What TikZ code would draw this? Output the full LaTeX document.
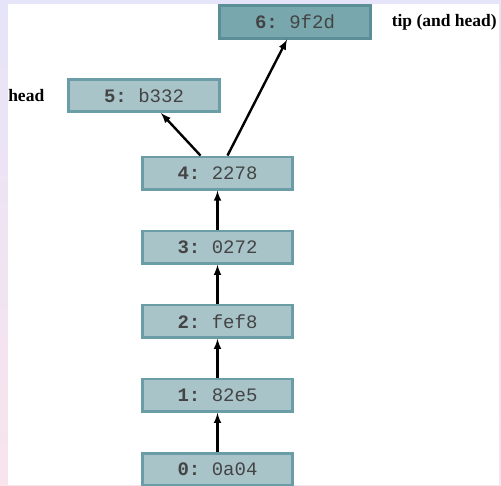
\documentclass[tikz,border=0pt]{standalone}
\usepackage{fontspec}
\setmonofont{Liberation Mono}
\newfontfamily\labelfont{Liberation Serif}
\usetikzlibrary{positioning}
\definecolor{boxfill}{HTML}{A8C4C9}
\definecolor{boxline}{HTML}{6A9DA6}
\definecolor{tipfill}{HTML}{78A7AD}
\definecolor{tipline}{HTML}{5B8E96}
\definecolor{bgtop}{HTML}{E6E4F8}
\definecolor{bgbot}{HTML}{F8E4EC}
\definecolor{revtext}{HTML}{444444}
\newcommand{\revtxt}[2]{\textbf{#1:} #2}
\tikzset{
  node distance=39pt,
  rev/.style = {rectangle, draw=boxline, fill=boxfill, line width=2.6pt, minimum width=150.5pt, minimum height=32.5pt, inner sep=0pt, text=revtext, font=\ttfamily\fontsize{19}{19}\selectfont},
  rev_tip/.style = {rev, draw=tipline, fill=tipfill},
  reflabel/.style = {inner sep=0pt, font=\labelfont\bfseries\fontsize{17.5}{17.5}\selectfont},
  parent/.style = {draw=black, line width=2.4pt, -latex}
}

\begin{document}
\begin{tikzpicture}[x=1pt,y=-1pt]
\shade [top color=bgtop, bottom color=bgbot] (0,0) rectangle (501,485);
\fill [white] (8,4) rectangle (499,485);
\useasboundingbox (0,0) rectangle (501,485);

\node [rev] (r0) at (217.5,469.5) {\revtxt{0}{0a04}};
\node [rev, above=of r0] (r1) {\revtxt{1}{82e5}};
\node [rev, above=of r1] (r2) {\revtxt{2}{fef8}};
\node [rev, above=of r2] (r3) {\revtxt{3}{0272}};
\node [rev, above=of r3] (r4) {\revtxt{4}{2278}};
\node [rev] (r5) at (144,95.5) {\revtxt{5}{b332}};
\node [rev_tip] (r6) at (295,22) {\revtxt{6}{9f2d}};

\node [reflabel, left=23pt of r5] (lhead) {head};
\node [reflabel, right=20pt of r6] (ltip) {tip (and head)};

\draw [parent] (r0.north) -- (r1.south);
\draw [parent] (r1.north) -- (r2.south);
\draw [parent] (r2.north) -- (r3.south);
\draw [parent] (r3.north) -- (r4.south);
\draw [parent] ([xshift=-17pt]r4.north) -- ([xshift=17pt]r5.south);
\draw [parent] ([xshift=10pt]r4.north) -- ([xshift=-8pt]r6.south);
\end{tikzpicture}
\end{document}
